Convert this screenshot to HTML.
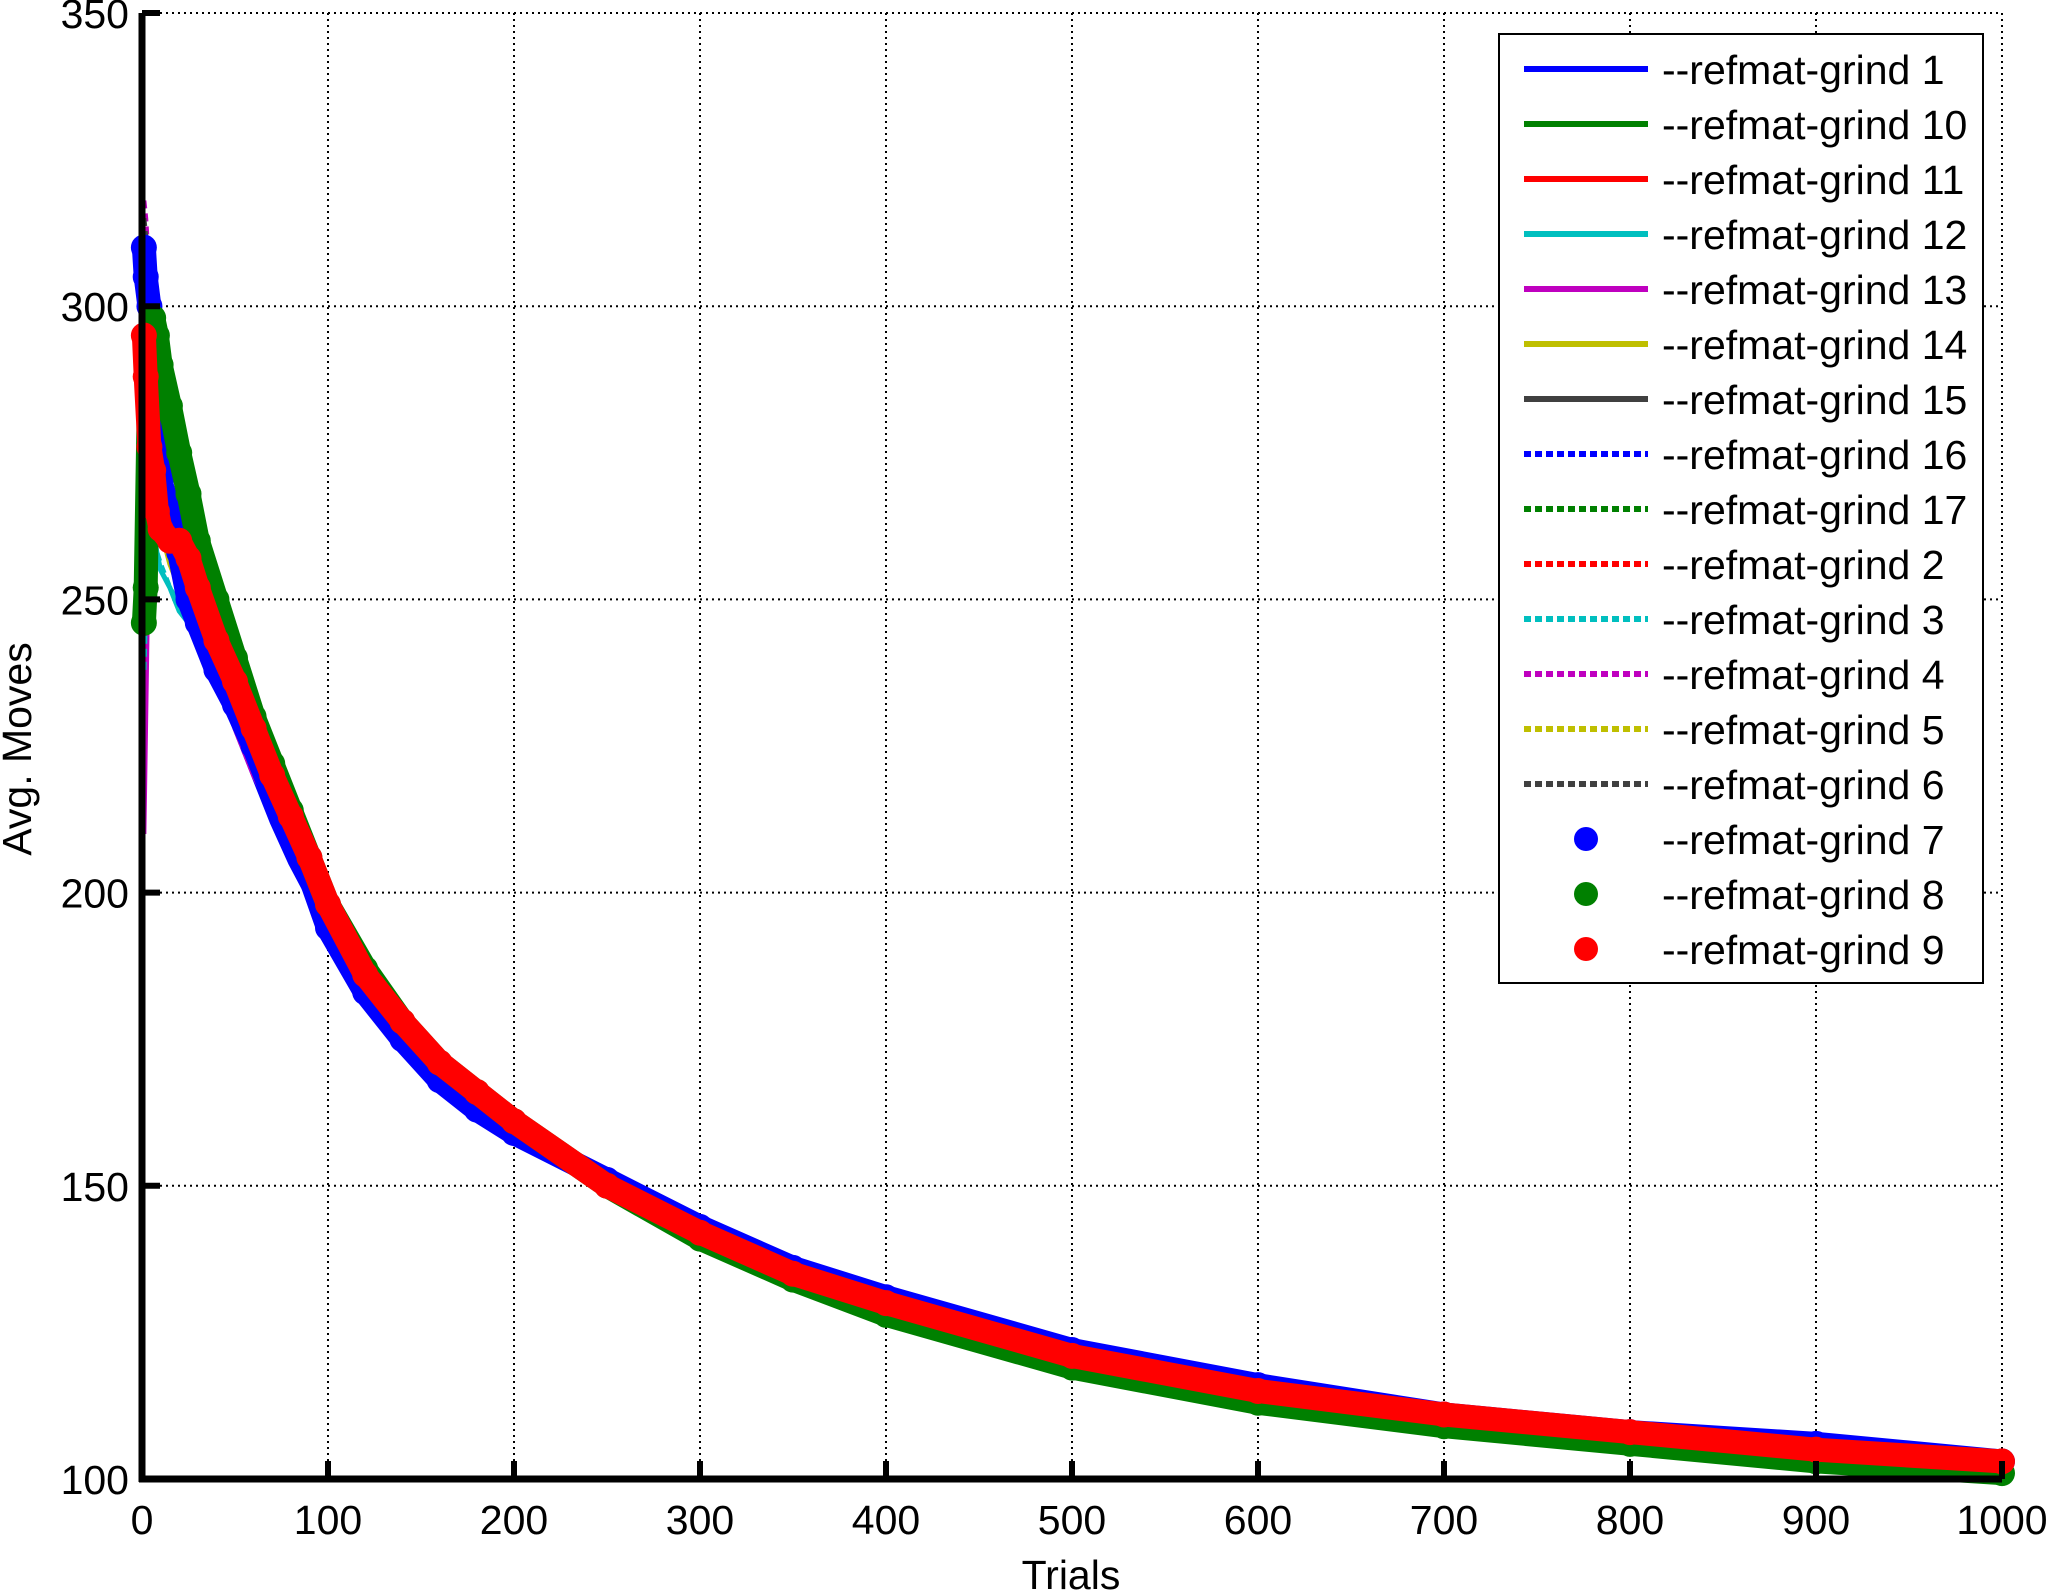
<!DOCTYPE html>
<html><head><meta charset="utf-8"><style>
body{margin:0;background:#fff}
svg{display:block;font-family:"Liberation Sans",Arial,sans-serif}
</style></head><body>
<svg id="chart" width="2047" height="1592" viewBox="0 0 2047 1592" xmlns="http://www.w3.org/2000/svg">
<g id="grid"></g>
<g id="series"></g>
<g id="axes"></g>
<g id="legend"></g>
</svg>
<script>
const xTicks=[0,100,200,300,400,500,600,700,800,900,1000];
const yTicks=[100,150,200,250,300,350];
const xs=[1,2,4,6,8,10,15,20,25,30,40,50,60,70,80,90,100,120,140,160,180,200,250,300,350,400,500,600,700,800,900,1000];
const tailBase=[198,186,178,171,166,161,150,142,135,130,121,115,111,108,105,103];
const tailBlue=[194,183,175,168,163,159,151,143,136,131,122,116,111,108,106,103];
const tailGreen=[198,187,178,171,166,161,150,141,134,128,119,113,109,106,103,101];
const s1=[300,298,290,282,275,268,262,255,248,244,236,228,220,212,205,199].concat(tailBlue);
const s10=[250,270,292,295,292,290,285,278,270,262,250,238,228,220,212,205].concat(tailGreen);
const s11=[290,285,280,275,270,265,258,252,248,245,240,233,226,219,212,205].concat(tailBase);
const s12=[240,250,262,262,258,255,252,248,246,244,240,233,226,219,212,205].concat(tailBase);
const s13=[210,230,270,285,275,268,260,255,250,246,238,228,220,214,209,203].concat(tailBase);
const s14=[260,265,272,270,266,262,256,252,249,246,240,233,227,220,213,206].concat(tailBase);
const s15=[310,308,300,290,280,270,262,254,247,244,240,234,227,220,213,206].concat(tailBase);
const s16=[295,292,285,278,272,266,259,253,248,245,240,233,226,219,212,205].concat(tailBase);
const s17=[280,285,290,288,284,280,274,268,262,256,246,236,228,220,213,206].concat(tailGreen);
const s2=[285,282,278,274,270,266,260,254,249,245,240,233,226,219,212,205].concat(tailBase);
const s3=[238,248,258,260,258,256,252,249,246,244,240,233,226,219,212,205].concat(tailBase);
const s4=[318,315,305,292,280,270,262,255,249,245,238,230,222,215,209,203].concat(tailBase);
const s5=[265,268,270,268,265,262,257,252,249,246,240,233,227,220,213,206].concat(tailBase);
const s6=[315,312,305,295,282,272,262,254,248,245,241,234,227,220,213,206].concat(tailBase);
const s7=[310,305,300,296,285,270,265,258,250,246,238,232,225,217,210,203].concat(tailBlue);
const s8=[246,252,290,298,295,290,283,275,268,260,250,240,230,222,214,206].concat(tailGreen);
const s9=[295,288,276,272,265,262,260,260,257,252,243,236,228,220,213,206].concat(tailBase);
const names=["--refmat-grind 1","--refmat-grind 10","--refmat-grind 11","--refmat-grind 12","--refmat-grind 13","--refmat-grind 14","--refmat-grind 15","--refmat-grind 16","--refmat-grind 17","--refmat-grind 2","--refmat-grind 3","--refmat-grind 4","--refmat-grind 5","--refmat-grind 6","--refmat-grind 7","--refmat-grind 8","--refmat-grind 9"];
const seriesData=[s1,s10,s11,s12,s13,s14,s15,s16,s17,s2,s3,s4,s5,s6,s7,s8,s9];
const colors=["#0000ff","#008000","#ff0000","#00bfbf","#bf00bf","#bfbf00","#404040","#0000ff","#008000","#ff0000","#00bfbf","#bf00bf","#bfbf00","#404040","#0000ff","#008000","#ff0000"];
const styles=["solid","solid","solid","solid","solid","solid","solid","dash","dash","dash","dash","dash","dash","dash","marker","marker","marker"];

const NS="http://www.w3.org/2000/svg";
const X0=142,X1=2002,Y0=1479,Y1=13;
const sx=v=>X0+(v-0)/(1000-0)*(X1-X0);
const sy=v=>Y0-(v-100)/(350-100)*(Y0-Y1);
function mk(tag,attrs,parent){const e=document.createElementNS(NS,tag);for(const k in attrs)e.setAttribute(k,attrs[k]);parent.appendChild(e);return e;}
const grid=document.getElementById('grid'),ser=document.getElementById('series'),axes=document.getElementById('axes'),leg=document.getElementById('legend');

xTicks.forEach(t=>{
  const l=mk('line',{x1:sx(t),x2:sx(t),y1:Y1,y2:Y0,stroke:'#000','stroke-width':2,'stroke-dasharray':'2,4'},grid);
  
  
  const tk=mk('line',{x1:sx(t),x2:sx(t),y1:Y0,y2:Y0-18,stroke:'#000','stroke-width':6},axes);
  
  
  const tx=mk('text',{x:sx(t),y:1534,'font-size':41,'text-anchor':'middle'},axes);
  tx.textContent=t;
  
  
});
yTicks.forEach(t=>{
  const l=mk('line',{x1:X0,x2:X1,y1:sy(t),y2:sy(t),stroke:'#000','stroke-width':2,'stroke-dasharray':'2,4'},grid);
  
  
  const tk=mk('line',{x1:X0,x2:X0+18,y1:sy(t),y2:sy(t),stroke:'#000','stroke-width':6},axes);
  
  
  const tx=mk('text',{x:129,y:sy(t)+15,'font-size':41,'text-anchor':'end'},axes);
  tx.textContent=t;
  
  
});
const ax1=mk('line',{x1:X0,x2:X0,y1:Y1,y2:Y0+3,stroke:'#000','stroke-width':7},axes);


const ax2=mk('line',{x1:X0-3,x2:X1,y1:Y0,y2:Y0,stroke:'#000','stroke-width':7},axes);


const xt=mk('text',{x:1071,y:1589,'font-size':41,'text-anchor':'middle'},axes);
xt.textContent='Trials';


const yt=mk('text',{x:0,y:0,'font-size':41,'text-anchor':'middle',transform:'translate(31,749) rotate(-90)'},axes);
yt.textContent='Avg. Moves';



function pts(arr){return arr.map((v,i)=>sx(xs[i]).toFixed(1)+','+sy(v).toFixed(1)).join(' ');}
seriesData.forEach((arr,i)=>{
  if(styles[i]==='marker')return;
  const p=mk('polyline',{points:pts(arr),fill:'none',stroke:colors[i],'stroke-width':5,'stroke-linejoin':'round'},ser);
  if(styles[i]==='dash')p.setAttribute('stroke-dasharray','8,5');
  
  
});
seriesData.forEach((arr,i)=>{
  if(styles[i]!=='marker')return;
  const g=mk('g',{},ser);
  
  
  mk('polyline',{points:pts(arr),fill:'none',stroke:colors[i],'stroke-width':24,'stroke-linejoin':'round','stroke-linecap':'round'},g);
  arr.forEach((v,j)=>{
    const c=mk('circle',{cx:sx(xs[j]),cy:sy(v),r:13,fill:colors[i]},g);
    
    
  });
});

const box=mk('rect',{x:1499,y:34,width:484,height:949,fill:'#fff',stroke:'#000','stroke-width':2},leg);


names.forEach((n,i)=>{
  const y=69+i*55;
  const g=mk('g',{},leg);
  
  
  if(styles[i]==='marker'){
    mk('circle',{cx:1586,cy:y,r:12,fill:colors[i]},g);
  }else{
    const l=mk('line',{x1:1524,x2:1648,y1:y,y2:y,stroke:colors[i],'stroke-width':6},g);
    if(styles[i]==='dash')l.setAttribute('stroke-dasharray','7,4');
  }
  const t=mk('text',{x:1662,y:y+15,'font-size':41},g);
  t.textContent=n;
});
</script>
</body></html>
